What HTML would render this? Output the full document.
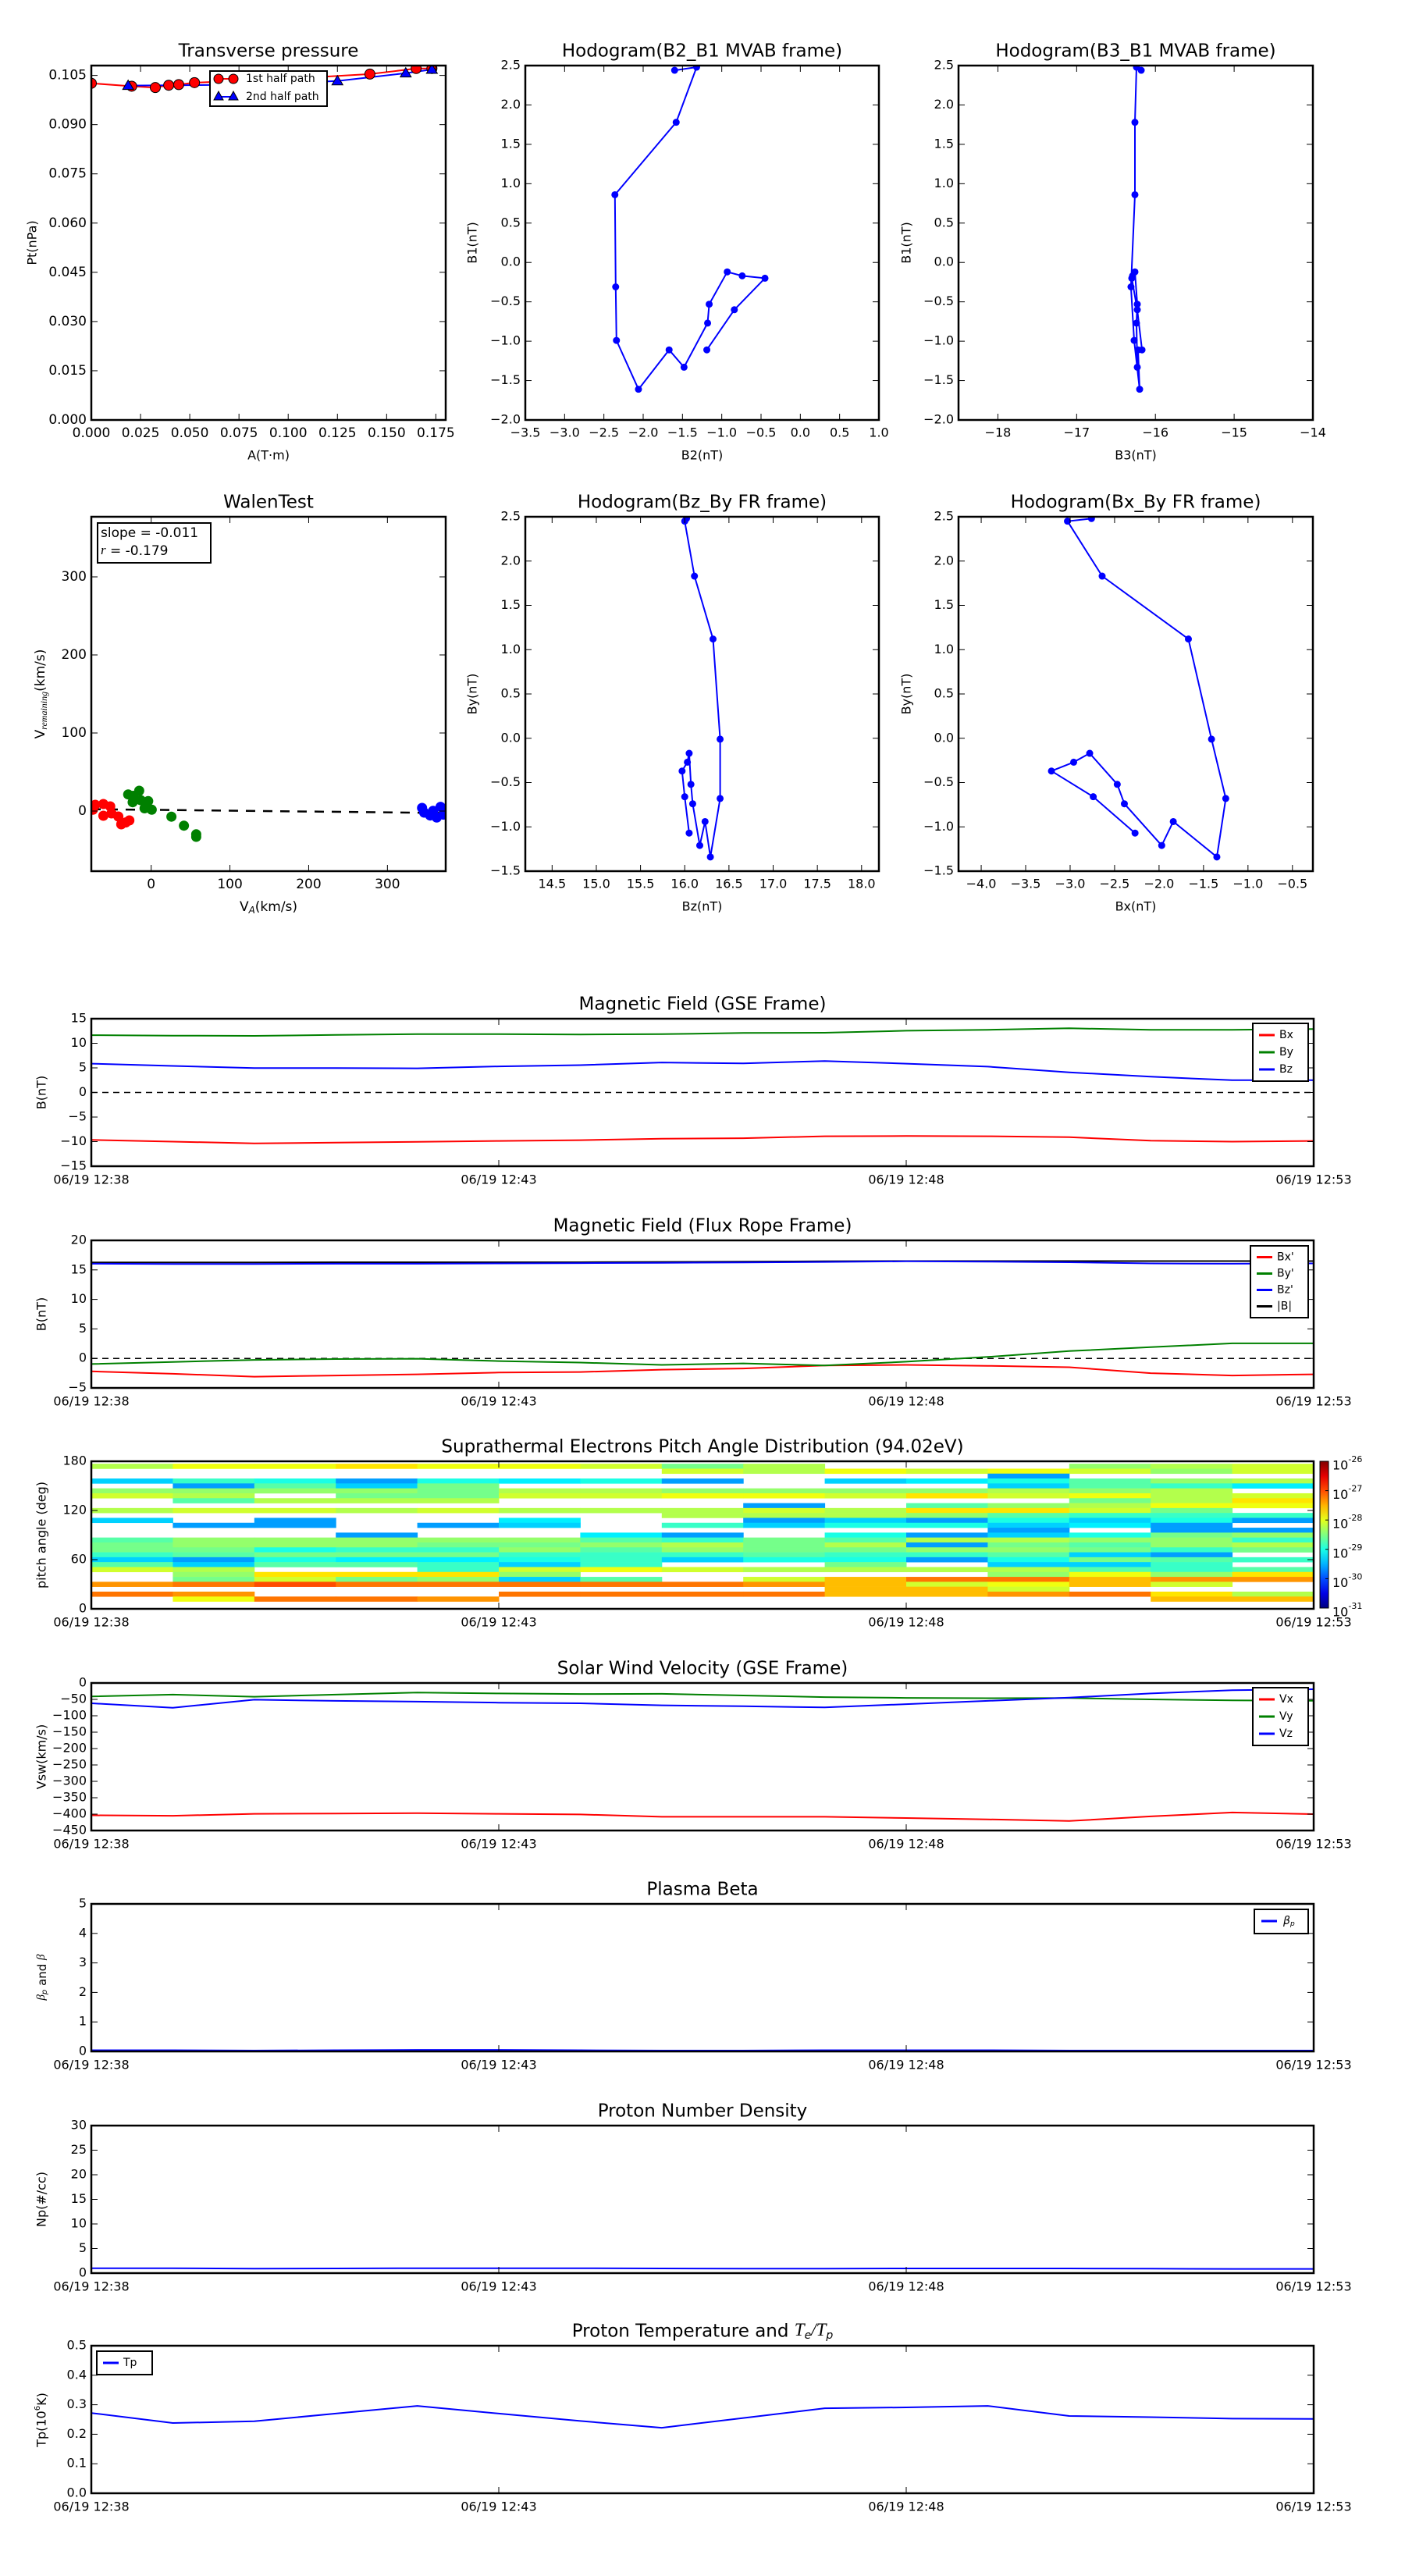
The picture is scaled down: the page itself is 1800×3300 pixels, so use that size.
<!DOCTYPE html>
<html><head><meta charset="utf-8"><title>Flux rope analysis</title>
<style>
html,body{margin:0;padding:0;background:#fff;}
svg{display:block;font-family:"DejaVu Sans","Liberation Sans",sans-serif;}
</style></head>
<body>
<svg id="fig" xmlns="http://www.w3.org/2000/svg" width="1800" height="3300" viewBox="0 0 1800 3300">
<rect x="0" y="0" width="1800" height="3300" fill="#fff"/>
</svg>
<script>
// ---------- data ----------
const tpA1 = [0, 0.0205, 0.0325, 0.0393, 0.0444, 0.0524, 0.065, 0.09, 0.115, 0.1415, 0.165, 0.173];
const tpP1 = [0.1026, 0.1017, 0.1013, 0.1020, 0.1022, 0.1028, 0.1031, 0.1038, 0.1045, 0.1054, 0.1071, 0.1071];
const tpA2 = [0.0187, 0.065, 0.1, 0.125, 0.1597, 0.173];
const tpP2 = [0.1019, 0.1021, 0.1027, 0.1033, 0.1057, 0.1068];

const mvB2 = [-1.19, -0.84, -0.45, -0.74, -0.93, -1.16, -1.18, -1.48, -1.67, -2.06, -2.34, -2.35, -2.36, -1.58, -1.32, -1.60];
const mvB1 = [-1.11, -0.60, -0.20, -0.17, -0.12, -0.53, -0.77, -1.33, -1.11, -1.61, -0.99, -0.31, 0.86, 1.78, 2.48, 2.44];
const mvB3 = [-16.17, -16.23, -16.30, -16.29, -16.26, -16.23, -16.24, -16.23, -16.22, -16.20, -16.27, -16.31, -16.26, -16.26, -16.24, -16.18];

const frBx = [-2.27, -2.74, -3.21, -2.96, -2.78, -2.47, -2.39, -1.97, -1.84, -1.35, -1.25, -1.41, -1.67, -2.64, -3.03, -2.76];
const frBy = [-1.07, -0.66, -0.37, -0.27, -0.17, -0.52, -0.74, -1.21, -0.94, -1.34, -0.68, -0.01, 1.12, 1.83, 2.45, 2.48];
const frBz = [16.05, 16.00, 15.97, 16.03, 16.05, 16.07, 16.09, 16.17, 16.23, 16.29, 16.40, 16.40, 16.32, 16.11, 16.00, 16.02];

const walRedX = [-71, -60.7, -52, -60.7, -50.4, -41.7, -38, -32.3, -27.7, -74];
const walRedY = [8, 9, 6, -6, -3, -7, -17, -14.6, -12, 1.7];
const walGreenX = [-29.2, -22.8, -15.2, -23.5, -13.3, -3.8, -8.4, 0.7, 25.7, 41.6, 57.2, 57.2];
const walGreenY = [21.3, 19.5, 26, 11.3, 14, 12.8, 3.5, 1.7, -7.2, -18.7, -29.8, -33];
const walBlueX = [344, 346.7, 354.3, 358, 362.6, 367.5, 371.3, 373];
const walBlueY = [4, -2, -5.7, 0.2, -8.3, 5.4, -4.6, 1];
const walSlope = -0.011;
const walIntercept = 1.6;

const minutes = [0,1,2,3,4,5,6,7,8,9,10,11,12,13,14,15];
const timeTickMin = [0, 5, 10, 15];
const timeTickLabels = ['06/19 12:38', '06/19 12:43', '06/19 12:48', '06/19 12:53'];

const gseBx = [-9.65, -10.0, -10.35, -10.2, -10.05, -9.85, -9.7, -9.4, -9.3, -8.9, -8.85, -8.9, -9.1, -9.8, -10.0, -9.85];
const gseBy = [11.65, 11.55, 11.5, 11.7, 11.85, 11.85, 11.8, 11.85, 12.1, 12.15, 12.55, 12.75, 13.05, 12.75, 12.75, 12.9];
const gseBz = [5.85, 5.4, 4.95, 4.95, 4.9, 5.3, 5.55, 6.1, 5.9, 6.4, 5.85, 5.25, 4.1, 3.2, 2.5, 2.5];

const fBx = [-2.2, -2.6, -3.1, -2.9, -2.7, -2.4, -2.3, -1.9, -1.7, -1.2, -1.1, -1.25, -1.5, -2.5, -2.9, -2.7];
const fBy = [-0.95, -0.6, -0.25, -0.1, -0.05, -0.45, -0.7, -1.1, -0.85, -1.2, -0.55, 0.25, 1.25, 1.9, 2.55, 2.55];
const fBz = [16.05, 16.0, 16.0, 16.05, 16.05, 16.1, 16.15, 16.2, 16.25, 16.35, 16.45, 16.4, 16.3, 16.1, 16.05, 16.1];
const fBt = [16.25, 16.25, 16.25, 16.3, 16.3, 16.3, 16.3, 16.35, 16.4, 16.45, 16.5, 16.5, 16.5, 16.5, 16.5, 16.5];

const swVx = [-403.6, -405, -399, -398, -397, -399, -401, -408, -408, -408, -412, -416, -421, -407, -395, -400];
const swVy = [-41, -35.5, -42, -35.5, -29, -32, -33.6, -33, -38, -43, -45.5, -46.5, -46, -50, -53, -54];
const swVz = [-62, -75.5, -51, -54.5, -57, -60, -62, -68, -71, -74.5, -64.5, -54.5, -44.5, -32, -22, -19];

const betaP = [0.04, 0.04, 0.03, 0.04, 0.05, 0.05, 0.04, 0.03, 0.03, 0.04, 0.04, 0.04, 0.03, 0.03, 0.03, 0.03];
const densNp = [1.0, 1.0, 0.9, 0.95, 1.0, 1.0, 1.0, 0.95, 0.9, 0.9, 0.95, 0.95, 0.95, 0.9, 0.85, 0.85];
const tempTp = [0.272, 0.238, 0.244, 0.27, 0.296, 0.27, 0.245, 0.222, 0.255, 0.288, 0.291, 0.296, 0.262, 0.258, 0.253, 0.252];

// PAD: level values (log10 PSD) referenced by letter codes; '.' = no data
const padLevelCodes = ['A','B','C','D','E','F','G','H','I','J','K','L','M','N','O','P'];
const padLevelValues = [-29.6, -29.35, -29.2, -29.0, -28.85, -28.7, -28.55, -28.4, -28.25, -28.1, -27.95, -27.75, -27.55, -27.35, -27.2, -27.0];
const padBinCenters = [174,168,162,156,150,144,138,132,126,120,114,108,102,96,90,84,78,72,66,60,54,48,42,36,30,24,18,12];
const padRows = [
 'IKKLKKJGI...HIJ',
 '.......JIKJKJHJ',
 '...........A...',
 'BEDADCDA.BCDFHI',
 '.AFBG......BFEC',
 'HHHHGIIHHHHIHI.',
 'JI.GGJJKKJLJKIJ',
 '.FIII.......GIL',
 '........A.FHIKK',
 'IJJIJIIIJILLJG.',
 '.......IIIHFEEE',
 'B.A..C..ABADBDA',
 '.AA.AB.EBDDBCA.',
 '...........A.AA',
 '...A..CA.DABDGH',
 'FHHHHHFEGFIIHHE',
 'GHHHGGHIGIAGFHI',
 'GGDEEHFHGGHHGEG',
 'EFGGGEEEFEEFBA.',
 'BADCCDEBDDADGFE',
 'FBFFEBE..G.BBE.',
 'JI..EJKJIIIIFEF',
 '.HLLLH.....HKHL',
 '.GJGHBF.JMOOMNN',
 'NOPOOOOONMJKMJ.',
 '.........MMJ...',
 'ON...OOOOMMNOLI',
 '.KOON........MM'
];
const cbExponents = [-26, -27, -28, -29, -30, -31];

// ---------- helpers ----------
const NS = 'http://www.w3.org/2000/svg';
const svg = document.getElementById('fig');
function el(tag, attrs, parent) {
  const e = document.createElementNS(NS, tag);
  for (const k in attrs) e.setAttribute(k, attrs[k]);
  (parent || svg).appendChild(e);
  return e;
}
function nm(e, name, inter) {
  
  
  return e;
}
function txt(parent, x, y, s, size, anchor, extra) {
  const a = Object.assign({x: x, y: y, 'font-size': size, 'text-anchor': anchor || 'middle', 'dominant-baseline': 'middle', fill: '#000'}, extra || {});
  const t = el('text', a, parent);
  t.textContent = s;
  return t;
}
function jet(v) {
  const t = Math.max(0, Math.min(1, (v + 31) / 5));
  const f = (x) => Math.max(0, Math.min(1, x));
  const r = f(1.5 - Math.abs(4 * t - 3));
  const g = f(1.5 - Math.abs(4 * t - 2));
  const b = f(1.5 - Math.abs(4 * t - 1));
  return 'rgb(' + Math.round(r * 255) + ',' + Math.round(g * 255) + ',' + Math.round(b * 255) + ')';
}
let clipId = 0;
function makeAxes(name, box, xr, yr, opt) {
  const g = el('g', {});
  nm(g, name, false);
  const sx = (v) => box.x0 + (v - xr[0]) / (xr[1] - xr[0]) * (box.x1 - box.x0);
  const sy = (v) => box.y1 - (v - yr[0]) / (yr[1] - yr[0]) * (box.y1 - box.y0);
  const id = 'clip' + (clipId++);
  const cp = el('clipPath', {id: id}, g);
  el('rect', {x: box.x0, y: box.y0, width: box.x1 - box.x0, height: box.y1 - box.y0}, cp);
  const plot = el('g', {'clip-path': 'url(#' + id + ')'}, g);
  const over = el('g', {});
  const fs = opt.tickSize || 16;
  (opt.xticks || []).forEach((v, i) => {
    const x = sx(v);
    const tk = el('line', {x1: x, x2: x, y1: box.y1, y2: box.y1 - 8, stroke: '#000', 'stroke-width': 1}, over);
    nm(tk, 'x-tick', false);
    el('line', {x1: x, x2: x, y1: box.y0, y2: box.y0 + 8, stroke: '#000', 'stroke-width': 1}, over);
    const lab = txt(over, x, box.y1 + (opt.xLabOff || 17), opt.xfmt ? opt.xfmt(v, i) : String(v), fs);
    nm(lab, 'x-tick-label', false);
  });
  (opt.yticks || []).forEach((v, i) => {
    const y = sy(v);
    const tk = el('line', {x1: box.x0, x2: box.x0 + 8, y1: y, y2: y, stroke: '#000', 'stroke-width': 1}, over);
    nm(tk, 'y-tick', false);
    el('line', {x1: box.x1, x2: box.x1 - 8, y1: y, y2: y, stroke: '#000', 'stroke-width': 1}, over);
    const lab = txt(over, box.x0 - 6, y, opt.yfmt ? opt.yfmt(v, i) : String(v), fs, 'end');
    nm(lab, 'y-tick-label', false);
  });
  const fr = el('rect', {x: box.x0, y: box.y0, width: box.x1 - box.x0, height: box.y1 - box.y0, fill: 'none', stroke: '#000', 'stroke-width': 2.5}, over);
  nm(fr, 'axes-frame', false);
  if (opt.title) {
    const t = txt(over, (box.x0 + box.x1) / 2, box.y0 - 18, opt.title, opt.titleSize || 23);
    nm(t, 'chart-title', false);
  }
  if (opt.xlabel) {
    const t = txt(over, (box.x0 + box.x1) / 2, box.y1 + 46, opt.xlabel, 16);
    nm(t, 'x-axis-title', false);
  }
  if (opt.ylabel) {
    const yc = (box.y0 + box.y1) / 2;
    const t = txt(over, opt.ylabelX, yc, opt.ylabel, opt.ylabelSize || 16, 'middle', {transform: 'rotate(-90 ' + opt.ylabelX + ' ' + yc + ')'});
    nm(t, 'y-axis-title', false);
  }
  return {g, plot, over, sx, sy, box};
}
function line(ax, xs, ys, color, name, w, dash) {
  const pts = xs.map((x, i) => ax.sx(x).toFixed(1) + ',' + ax.sy(ys[i]).toFixed(1)).join(' ');
  const p = el('polyline', {points: pts, fill: 'none', stroke: color, 'stroke-width': w || 2, 'stroke-linejoin': 'round', 'stroke-dasharray': dash || 'none'}, ax.plot);
  nm(p, name, false);
  return p;
}
function dots(ax, xs, ys, color, name, r, stroke) {
  xs.forEach((x, i) => {
    const c = el('circle', {cx: ax.sx(x), cy: ax.sy(ys[i]), r: r || 4, fill: color, stroke: stroke || 'none', 'stroke-width': 1}, ax.plot);
    nm(c, name, false);
  });
}
function legend(ax, x, y, w, entries, rowH) {
  const g = el('g', {}, ax.over);
  nm(g, 'legend', false);
  const h = entries.length * rowH + 8;
  el('rect', {x: x, y: y, width: w, height: h, fill: '#fff', stroke: '#000', 'stroke-width': 2}, g);
  entries.forEach((e, i) => {
    const yy = y + 4 + rowH * (i + 0.5);
    const ln = el('line', {x1: x + 8, x2: x + 28, y1: yy, y2: yy, stroke: e[1], 'stroke-width': 3}, g);
    nm(ln, 'legend-swatch', false);
    const t = txt(g, x + 34, yy, e[0], 14, 'start');
    nm(t, 'legend-entry', false);
  });
  return g;
}
const range = (a, b, s) => { const r = []; for (let v = a; v <= b + 1e-9; v += s) r.push(+v.toFixed(6)); return r; };

// ---------- top row ----------
const axTP = makeAxes('transverse-pressure-chart', {x0: 117, x1: 571, y0: 84, y1: 538}, [0, 0.18], [0, 0.108],
  {title: 'Transverse pressure', xticks: range(0, 0.175, 0.025), yticks: range(0, 0.105, 0.015),
   xfmt: v => v.toFixed(3), yfmt: v => v.toFixed(3), xlabel: 'A(T·m)', ylabel: 'Pt(nPa)', ylabelX: 42, tickSize: 17});
line(axTP, tpA1, tpP1, '#ff0000', 'first-half-line', 2);
line(axTP, tpA2, tpP2, '#0000ff', 'second-half-line', 2);
dots(axTP, tpA1, tpP1, '#ff0000', 'first-half-marker', 6.5, '#000');
tpA2.forEach((a, i) => {
  const x = axTP.sx(a), y = axTP.sy(tpP2[i]);
  const tri = el('polygon', {points: (x) + ',' + (y - 7) + ' ' + (x - 7) + ',' + (y + 5) + ' ' + (x + 7) + ',' + (y + 5), fill: '#0000ff', stroke: '#000', 'stroke-width': 1}, axTP.plot);
  nm(tri, 'second-half-marker', false);
});
(function () {
  const g = el('g', {}, axTP.over);
  nm(g, 'legend', false);
  el('rect', {x: 269, y: 91, width: 150, height: 45, fill: '#fff', stroke: '#000', 'stroke-width': 2}, g);
  el('line', {x1: 280, x2: 299, y1: 101, y2: 101, stroke: '#f00', 'stroke-width': 2}, g);
  el('circle', {cx: 280, cy: 101, r: 6, fill: '#f00', stroke: '#000'}, g);
  el('circle', {cx: 299, cy: 101, r: 6, fill: '#f00', stroke: '#000'}, g);
  nm(txt(g, 315, 101, '1st half path', 14, 'start'), 'legend-entry', false);
  el('line', {x1: 280, x2: 299, y1: 124, y2: 124, stroke: '#00f', 'stroke-width': 2}, g);
  el('polygon', {points: '280,117 274,128 286,128', fill: '#00f', stroke: '#000'}, g);
  el('polygon', {points: '299,117 293,128 305,128', fill: '#00f', stroke: '#000'}, g);
  nm(txt(g, 315, 124, '2nd half path', 14, 'start'), 'legend-entry', false);
})();

const axH1 = makeAxes('hodogram-b2-b1-chart', {x0: 673, x1: 1126, y0: 84, y1: 538}, [-3.5, 1.0], [-2.0, 2.5],
  {title: 'Hodogram(B2_B1 MVAB frame)', xticks: range(-3.5, 1.0, 0.5), yticks: range(-2.0, 2.5, 0.5),
   xfmt: v => v.toFixed(1).replace('-', '−'), yfmt: v => v.toFixed(1).replace('-', '−'), xlabel: 'B2(nT)', ylabel: 'B1(nT)', ylabelX: 606});
line(axH1, mvB2, mvB1, '#0000ff', 'hodogram-line', 2);
dots(axH1, mvB2, mvB1, '#0000ff', 'hodogram-point', 4.5);

const axH2 = makeAxes('hodogram-b3-b1-chart', {x0: 1228, x1: 1682, y0: 84, y1: 538}, [-18.5, -14], [-2.0, 2.5],
  {title: 'Hodogram(B3_B1 MVAB frame)', xticks: range(-18, -14, 1), yticks: range(-2.0, 2.5, 0.5),
   xfmt: v => String(v).replace('-', '−'), yfmt: v => v.toFixed(1).replace('-', '−'), xlabel: 'B3(nT)', ylabel: 'B1(nT)', ylabelX: 1162});
line(axH2, mvB3, mvB1, '#0000ff', 'hodogram-line', 2);
dots(axH2, mvB3, mvB1, '#0000ff', 'hodogram-point', 4.5);

// ---------- second row ----------
const axW = makeAxes('walen-test-chart', {x0: 117, x1: 571, y0: 662, y1: 1116}, [-76, 374], [-77, 377],
  {title: 'WalenTest', xticks: [0, 100, 200, 300], yticks: [0, 100, 200, 300], xlabel: '', ylabel: '', ylabelX: 52, tickSize: 17});
(function () {
  const t = el('text', {x: 344, y: 1162, 'font-size': 17, 'text-anchor': 'middle', 'dominant-baseline': 'middle'}, axW.over);
  nm(t, 'x-axis-title', false);
  t.innerHTML = 'V<tspan font-size="12" font-style="italic" dy="4">A</tspan><tspan dy="-4">(km/s)</tspan>';
  const yc = 889;
  const t2 = el('text', {x: 52, y: yc, 'font-size': 17, 'text-anchor': 'middle', 'dominant-baseline': 'middle', transform: 'rotate(-90 52 ' + yc + ')'}, axW.over);
  nm(t2, 'y-axis-title', false);
  t2.innerHTML = 'V<tspan font-size="12" font-style="italic" font-family="Liberation Serif" dy="5">remaining</tspan><tspan dy="-5">(km/s)</tspan>';
})();
line(axW, [-76, 374], [walIntercept + walSlope * -76, walIntercept + walSlope * 374], '#000', 'fit-line', 2.5, '12,10');
dots(axW, walRedX, walRedY, '#ff0000', 'walen-red-point', 6.5);
dots(axW, walGreenX, walGreenY, '#008000', 'walen-green-point', 6.5);
dots(axW, walBlueX, walBlueY, '#0000ff', 'walen-blue-point', 6.5);
(function () {
  const g = el('g', {}, axW.over);
  nm(g, 'fit-stats-box', false);
  el('rect', {x: 125, y: 670, width: 145, height: 51, fill: '#fff', stroke: '#000', 'stroke-width': 2}, g);
  txt(g, 129, 683, 'slope = -0.011', 17, 'start');
  const t = el('text', {x: 129, y: 706, 'font-size': 17, 'dominant-baseline': 'middle'}, g);
  t.innerHTML = '<tspan font-style="italic" font-family="Liberation Serif">r</tspan> = -0.179';
})();

const axH3 = makeAxes('hodogram-bz-by-chart', {x0: 673, x1: 1126, y0: 662, y1: 1116}, [14.197, 18.196], [-1.5, 2.5],
  {title: 'Hodogram(Bz_By FR frame)', xticks: range(14.5, 18.0, 0.5), yticks: range(-1.5, 2.5, 0.5),
   xfmt: v => v.toFixed(1), yfmt: v => v.toFixed(1).replace('-', '−'), xlabel: 'Bz(nT)', ylabel: 'By(nT)', ylabelX: 606});
line(axH3, frBz, frBy, '#0000ff', 'hodogram-line', 2);
dots(axH3, frBz, frBy, '#0000ff', 'hodogram-point', 4.5);

const axH4 = makeAxes('hodogram-bx-by-chart', {x0: 1228, x1: 1682, y0: 662, y1: 1116}, [-4.255, -0.27], [-1.5, 2.5],
  {title: 'Hodogram(Bx_By FR frame)', xticks: range(-4.0, -0.5, 0.5), yticks: range(-1.5, 2.5, 0.5),
   xfmt: v => v.toFixed(1).replace('-', '−'), yfmt: v => v.toFixed(1).replace('-', '−'), xlabel: 'Bx(nT)', ylabel: 'By(nT)', ylabelX: 1162});
line(axH4, frBx, frBy, '#0000ff', 'hodogram-line', 2);
dots(axH4, frBx, frBy, '#0000ff', 'hodogram-point', 4.5);

// ---------- time series ----------
const TX0 = 117, TX1 = 1683;
function tsAxes(name, top, yr, yticks, title, ylabel, yfmt) {
  return makeAxes(name, {x0: TX0, x1: TX1, y0: top, y1: top + 189}, [0, 15], yr,
    {title: title, xticks: timeTickMin, xfmt: (v, i) => timeTickLabels[i], yticks: yticks, yfmt: yfmt,
     ylabel: ylabel, ylabelX: 54, titleSize: 23, tickSize: 16, xLabOff: 18});
}

const axG = tsAxes('magnetic-field-gse-chart', 1305, [-15, 15], range(-15, 15, 5), 'Magnetic Field (GSE Frame)', 'B(nT)', v => String(v).replace('-', '−'));
line(axG, [0, 15], [0, 0], '#000', 'zero-line', 1.5, '8,6');
line(axG, minutes, gseBx, '#ff0000', 'bx-line', 2);
line(axG, minutes, gseBy, '#008000', 'by-line', 2);
line(axG, minutes, gseBz, '#0000ff', 'bz-line', 2);
legend(axG, 1605, 1311, 71, [['Bx', '#ff0000'], ['By', '#008000'], ['Bz', '#0000ff']], 22);

const axF = tsAxes('magnetic-field-flux-rope-chart', 1589, [-5, 20], range(-5, 20, 5), 'Magnetic Field (Flux Rope Frame)', 'B(nT)', v => String(v).replace('-', '−'));
line(axF, [0, 15], [0, 0], '#000', 'zero-line', 1.5, '8,6');
line(axF, minutes, fBx, '#ff0000', 'bx-prime-line', 2);
line(axF, minutes, fBy, '#008000', 'by-prime-line', 2);
line(axF, minutes, fBt, '#000000', 'b-total-line', 2);
line(axF, minutes, fBz, '#0000ff', 'bz-prime-line', 2);
legend(axF, 1602, 1596, 74, [["Bx'", '#ff0000'], ["By'", '#008000'], ["Bz'", '#0000ff'], ['|B|', '#000000']], 21);

// PAD heatmap
const axP = tsAxes('pitch-angle-distribution-chart', 1872, [0, 180], [0, 60, 120, 180], 'Suprathermal Electrons Pitch Angle Distribution (94.02eV)', 'pitch angle (deg)');
padRows.forEach((row, r) => {
  for (let c = 0; c < 15; c++) {
    const code = row[c];
    const k = padLevelCodes.indexOf(code);
    if (k < 0) continue;
    const v = padLevelValues[k];
    const x0 = axP.sx(minutes[c]), x1 = axP.sx(minutes[c] + 1);
    const y0 = axP.sy(padBinCenters[r] + 3), y1 = axP.sy(padBinCenters[r] - 3);
    const cell = el('rect', {x: x0, y: y0, width: x1 - x0 + 0.5, height: y1 - y0 + 0.3, fill: jet(v)}, axP.plot);
    nm(cell, 'heatmap-cell', false);
  }
});
// colorbar
(function () {
  const g = el('g', {});
  nm(g, 'colorbar', false);
  const defs = el('defs', {}, g);
  const lg = el('linearGradient', {id: 'jetgrad', x1: 0, y1: 1, x2: 0, y2: 0}, defs);
  for (let i = 0; i <= 10; i++) {
    el('stop', {offset: i / 10, 'stop-color': jet(-31 + i * 0.5)}, lg);
  }
  const top = 1872, bot = 2060;
  el('rect', {x: 1691, y: top, width: 11, height: bot - top, fill: 'url(#jetgrad)', stroke: '#000', 'stroke-width': 1}, g);
  cbExponents.forEach(e => {
    const y = top + (-26 - e) / 5 * (bot - top);
    el('line', {x1: 1698, x2: 1702, y1: y, y2: y, stroke: '#000'}, g);
    const t = el('text', {x: 1707, y: y + 6, 'font-size': 16, 'dominant-baseline': 'middle'}, g);
    nm(t, 'colorbar-label', false);
    t.innerHTML = '10<tspan font-size="11" dy="-8">' + e + '</tspan>';
  });
})();

const axS = tsAxes('solar-wind-velocity-chart', 2156, [-450, 0], range(-450, 0, 50), 'Solar Wind Velocity (GSE Frame)', 'Vsw(km/s)', v => String(v).replace('-', '−'));
line(axS, minutes, swVx, '#ff0000', 'vx-line', 2);
line(axS, minutes, swVy, '#008000', 'vy-line', 2);
line(axS, minutes, swVz, '#0000ff', 'vz-line', 2);
legend(axS, 1605, 2162, 71, [['Vx', '#ff0000'], ['Vy', '#008000'], ['Vz', '#0000ff']], 22);

const axB = tsAxes('plasma-beta-chart', 2439, [0, 5], range(0, 5, 1), 'Plasma Beta', '');
line(axB, minutes, betaP, '#0000ff', 'beta-p-line', 2);
(function () {
  const yc = 2533;
  const t = el('text', {x: 54, y: yc, 'font-size': 15, 'text-anchor': 'middle', 'dominant-baseline': 'middle', transform: 'rotate(-90 54 ' + yc + ')'}, axB.over);
  nm(t, 'y-axis-title', false);
  t.innerHTML = '<tspan font-style="italic" font-family="Liberation Serif">β</tspan><tspan font-size="10" font-style="italic" dy="3">p</tspan><tspan dy="-3"> and </tspan><tspan font-style="italic" font-family="Liberation Serif">β</tspan>';
  const g = el('g', {}, axB.over);
  nm(g, 'legend', false);
  el('rect', {x: 1607, y: 2446, width: 69, height: 31, fill: '#fff', stroke: '#000', 'stroke-width': 2}, g);
  el('line', {x1: 1616, x2: 1636, y1: 2461, y2: 2461, stroke: '#0000ff', 'stroke-width': 3}, g);
  const lt = el('text', {x: 1644, y: 2461, 'font-size': 14, 'font-style': 'italic', 'dominant-baseline': 'middle'}, g);
  nm(lt, 'legend-entry', false);
  lt.innerHTML = 'β<tspan font-size="9" dy="3">p</tspan>';
})();

const axN = tsAxes('proton-density-chart', 2723, [0, 30], range(0, 30, 5), 'Proton Number Density', 'Np(#/cc)');
line(axN, minutes, densNp, '#0000ff', 'density-line', 2);

const axT = tsAxes('proton-temperature-chart', 3005, [0, 0.5], range(0, 0.5, 0.1), '', '', v => v.toFixed(1));
line(axT, minutes, tempTp, '#0000ff', 'tp-line', 2);
(function () {
  const t = el('text', {x: 900, y: 2987, 'font-size': 23, 'text-anchor': 'middle', 'dominant-baseline': 'middle'}, axT.over);
  nm(t, 'chart-title', false);
  t.innerHTML = 'Proton Temperature and <tspan font-style="italic" font-family="Liberation Serif">T</tspan><tspan font-size="14" font-style="italic" dy="5">e</tspan><tspan dy="-5" font-style="italic" font-family="Liberation Serif">/T</tspan><tspan font-size="14" font-style="italic" dy="5">p</tspan>';
  const yc = 3100;
  const t2 = el('text', {x: 54, y: yc, 'font-size': 16, 'text-anchor': 'middle', 'dominant-baseline': 'middle', transform: 'rotate(-90 54 ' + yc + ')'}, axT.over);
  nm(t2, 'y-axis-title', false);
  t2.innerHTML = 'Tp(10<tspan font-size="10" dy="-6">6</tspan><tspan dy="6">K)</tspan>';
})();
legend(axT, 124, 3012, 71, [['Tp', '#0000ff']], 22);
</script>
</body></html>
